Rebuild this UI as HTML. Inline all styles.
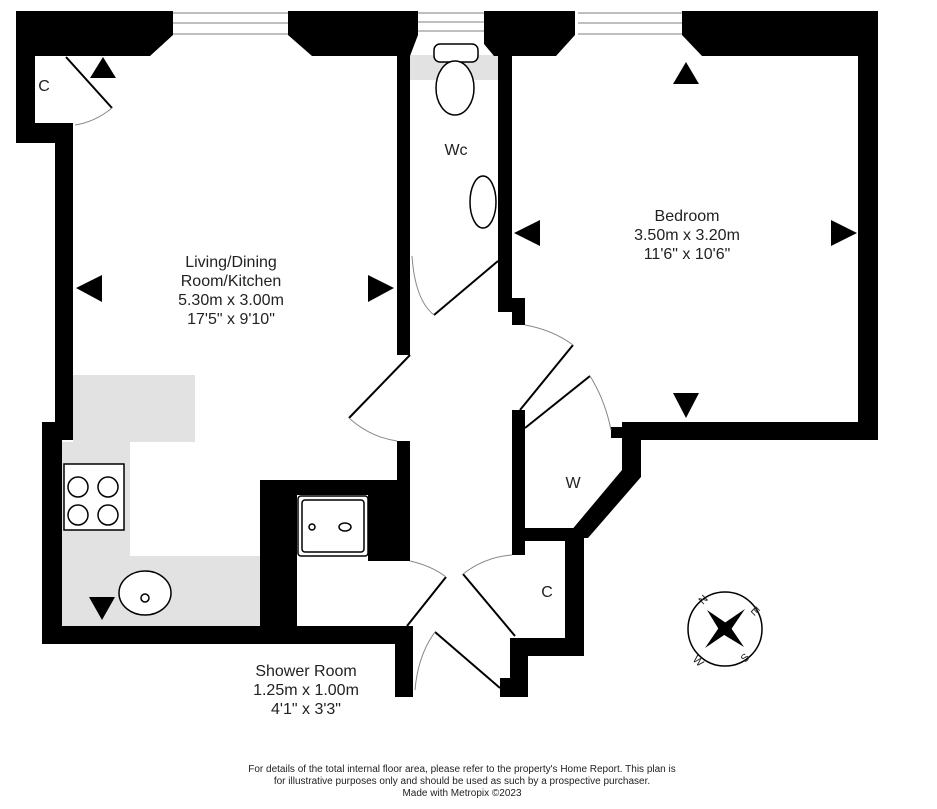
<!DOCTYPE html>
<html><head><style>
html,body{margin:0;padding:0;background:#fff;}
svg{display:block;}
text{font-family:"Liberation Sans",sans-serif;fill:#222;}
</style></head><body>
<svg width="937" height="809" viewBox="0 0 937 809" xmlns="http://www.w3.org/2000/svg">
<rect width="937" height="809" fill="#fff"/>
<g fill="#e2e2e2">
<rect x="73" y="375" width="122" height="67"/>
<rect x="62" y="442" width="68" height="184"/>
<rect x="130" y="556" width="132" height="70"/>
<rect x="410" y="55" width="88" height="25"/>
</g>
<g stroke="#999" stroke-width="1.2" fill="none">
<line x1="173" y1="13" x2="290" y2="13"/><line x1="173" y1="23" x2="290" y2="23"/><line x1="173" y1="34" x2="290" y2="34"/>
<line x1="418" y1="13" x2="488" y2="13"/><line x1="418" y1="22" x2="488" y2="22"/><line x1="418" y1="31" x2="488" y2="31"/>
<line x1="578" y1="13" x2="682" y2="13"/><line x1="578" y1="23" x2="682" y2="23"/><line x1="578" y1="34" x2="682" y2="34"/>
</g>
<g fill="#000">
<polygon points="16,11 173,11 173,35 150,56 35,56 35,123 73,123 73,143 16,143"/>
<polygon points="288,11 418,11 418,35 410,56 312,56 288,35"/>
<polygon points="484,11 575,11 575,35 556,56 512,56 512,56 498,56 498,56 494,56 484,44"/>
<polygon points="682,11 878,11 878,440 858,440 858,56 702,56 682,35"/>
<rect x="55" y="123" width="18" height="317"/>
<rect x="42" y="422" width="20" height="222"/>
<rect x="42" y="626" width="371" height="18"/>
<rect x="397" y="55" width="13" height="300"/>
<rect x="397" y="441" width="13" height="120"/>
<rect x="260" y="480" width="37" height="150"/>
<rect x="260" y="480" width="150" height="15"/>
<rect x="368" y="495" width="42" height="66"/>
<rect x="395" y="626" width="18" height="71"/>
<rect x="498" y="55" width="14" height="256"/>
<rect x="498" y="298" width="27" height="14"/>
<rect x="512" y="298" width="13" height="27"/>
<rect x="622" y="422" width="256" height="18"/>
<rect x="611" y="427" width="12" height="11"/>
<polygon points="622,440 641,440 641,477 588,538 565,538 622,470"/>
<rect x="512" y="410" width="13" height="145"/>
<rect x="512" y="528" width="70" height="13"/>
<rect x="565" y="530" width="19" height="126"/>
<rect x="510" y="638" width="74" height="18"/>
<rect x="500" y="678" width="28" height="19"/>
<rect x="510" y="638" width="18" height="59"/>
<polygon points="90,78 116,78 103,57"/>
<polygon points="673,84 699,84 686,62"/>
<polygon points="76,288 102,275 102,302"/>
<polygon points="394,288 368,275 368,302"/>
<polygon points="514,233 540,220 540,246"/>
<polygon points="857,233 831,220 831,246"/>
<polygon points="673,393 699,393 686,418"/>
<polygon points="89,597 115,597 102,620"/>
</g>
<g stroke="#000" stroke-width="2" fill="none">
<line x1="66" y1="57" x2="112" y2="108"/>
<line x1="410" y1="355" x2="349" y2="418"/>
<line x1="434" y1="315" x2="498" y2="261"/>
<line x1="520" y1="410" x2="573" y2="345"/>
<line x1="525" y1="428" x2="590" y2="376"/>
<line x1="407" y1="626" x2="446" y2="577"/>
<line x1="463" y1="574" x2="515" y2="636"/>
<line x1="435" y1="632" x2="500" y2="688"/>
</g>
<g stroke="#888" stroke-width="1" fill="none">
<path d="M112,108 Q95,122 75,125"/>
<path d="M349,418 Q370,437 397,441"/>
<path d="M412,256 Q415,300 434,315"/>
<path d="M525,325 Q553,330 573,345"/>
<path d="M590,376 Q605,400 611,430"/>
<path d="M410,561 Q432,566 446,577"/>
<path d="M463,574 Q485,557 512,555"/>
<path d="M435,632 Q418,655 415,690"/>
</g>
<g stroke="#000" stroke-width="1.5" fill="#fff">
<rect x="434" y="44" width="44" height="18" rx="6"/>
<ellipse cx="455" cy="88" rx="19" ry="27"/>
<ellipse cx="483" cy="202" rx="13" ry="26"/>
<rect x="298" y="496" width="70" height="60" rx="3"/>
<rect x="302" y="500" width="62" height="52" rx="3"/>
<ellipse cx="145" cy="593" rx="26" ry="22"/>
<rect x="64" y="464" width="60" height="66"/>
</g>
<g stroke="#000" stroke-width="1.5" fill="none">
<circle cx="78" cy="487" r="10"/><circle cx="108" cy="487" r="10"/>
<circle cx="78" cy="515" r="10"/><circle cx="108" cy="515" r="10"/>
<circle cx="312" cy="527" r="3"/>
<ellipse cx="345" cy="527" rx="6" ry="4"/>
<circle cx="145" cy="598" r="4"/>
</g>
<g>
<circle cx="725" cy="629" r="37" fill="none" stroke="#000" stroke-width="1.5"/>
<polygon points="707,610 729,625 744,647 721,633" fill="#000"/>
<polygon points="745,609 730,631 705,648 720,626" fill="#000"/>
<text x="703" y="605" font-size="11" transform="rotate(-45 703 605)">N</text>
<text x="750" y="611" font-size="11" transform="rotate(45 750 611)">E</text>
<text x="745" y="663" font-size="11" transform="rotate(-45 745 663)">S</text>
<text x="692" y="660" font-size="11" transform="rotate(45 692 660)">W</text>
</g>
<g font-size="16" text-anchor="middle">
<text x="44" y="91">C</text>
<text x="456" y="155">Wc</text>
<text x="573" y="488">W</text>
<text x="547" y="597">C</text>
<text x="231" y="267">Living/Dining</text>
<text x="231" y="286">Room/Kitchen</text>
<text x="231" y="305">5.30m  x 3.00m</text>
<text x="231" y="324">17'5"  x 9'10"</text>
<text x="687" y="221">Bedroom</text>
<text x="687" y="240">3.50m  x 3.20m</text>
<text x="687" y="259">11'6"  x 10'6"</text>
<text x="306" y="676">Shower Room</text>
<text x="306" y="695">1.25m  x 1.00m</text>
<text x="306" y="714">4'1"  x 3'3"</text>
</g>
<g font-size="10" text-anchor="middle">
<text x="462" y="772">For details of the total internal floor area, please refer to the property's Home Report. This plan is</text>
<text x="462" y="784">for illustrative purposes only and should be used as such by a prospective purchaser.</text>
<text x="462" y="796">Made with Metropix ©2023</text>
</g>
</svg>
</body></html>
